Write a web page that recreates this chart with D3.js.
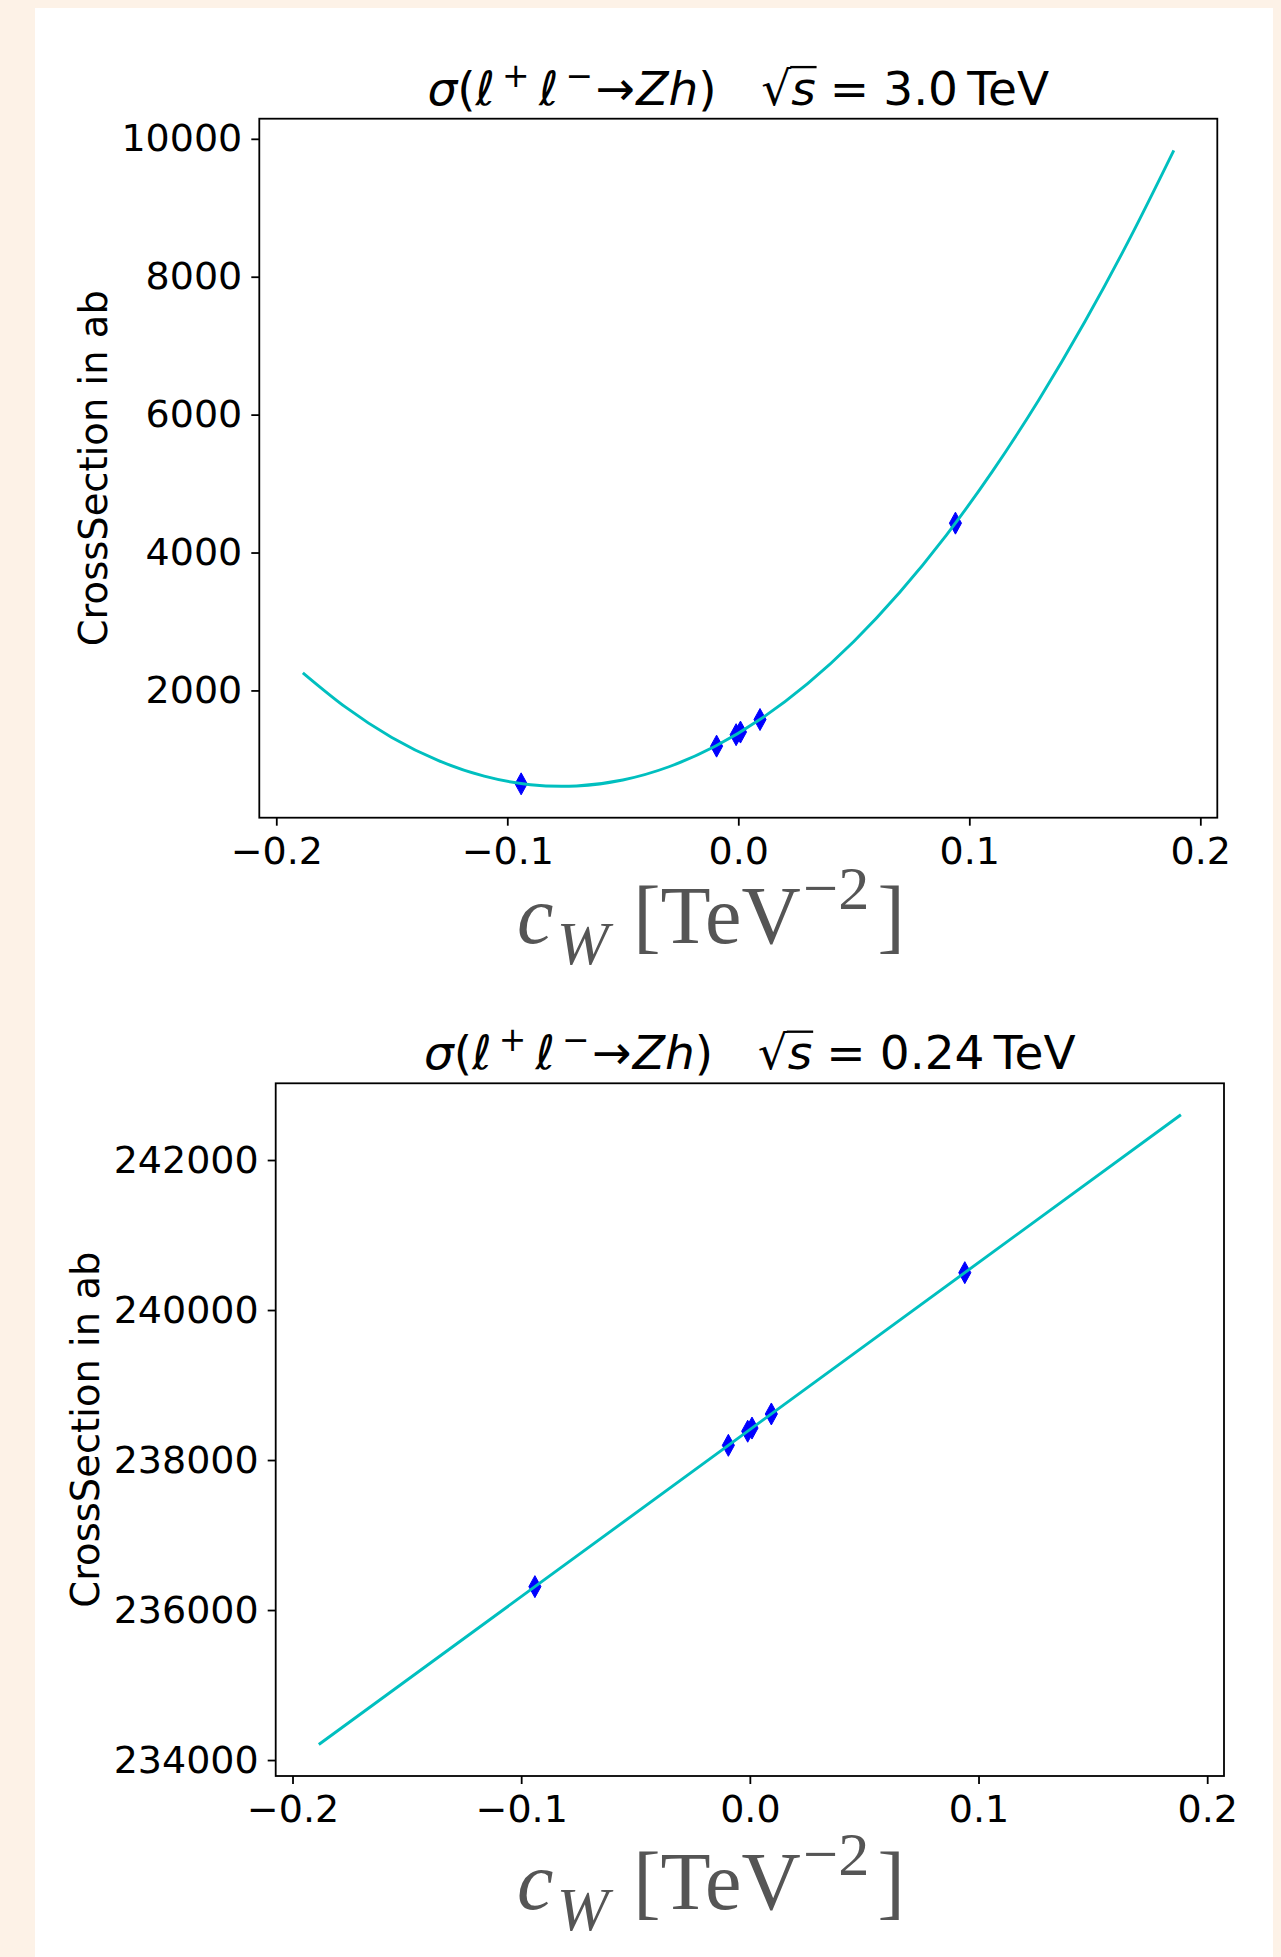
<!DOCTYPE html>
<html>
<head>
<meta charset="utf-8">
<script src="https://cdn.jsdelivr.net/npm/d3@7"></script>
<style>
  html, body { margin: 0; padding: 0; background: #fdf2e7; }
  svg { display: block; }
</style>
</head>
<body>
<svg id="chart" width="1281" height="1957"></svg>
<script>
// ---- data: Wilson coefficient c_W [TeV^-2] and cross sections in ab ----
const cwPoints = [-0.094, -0.0094, -0.00094, 0.00094, 0.0094, 0.094];
const sigma3TeVPoints = [645, 1192, 1358, 1396, 1578, 4426];
const sigma240GeVPoints = [236312, 238196, 238384, 238426, 238614, 240498];

// fitted curves
const cwCurve = [-0.1885, -0.17, -0.15, -0.13, -0.11, -0.09, -0.07, -0.05, -0.03, -0.01,
                 0.01, 0.03, 0.05, 0.07, 0.09, 0.11, 0.13, 0.15, 0.17, 0.1885];
const sigma3TeVCurve = [2256, 1757, 1318, 985, 756, 633, 615, 701, 893, 1190,
                        1592, 2099, 2711, 3428, 4250, 5177, 6209, 7346, 8589, 9831];
const cwLine = [-0.1885, 0, 0.1885];
const sigma240GeVLine = [234207, 238405, 242603];

// tick labels
const xTicks = [-0.2, -0.1, 0.0, 0.1, 0.2];
const yTicks3TeV = [2000, 4000, 6000, 8000, 10000];
const yTicks240GeV = [234000, 236000, 238000, 240000, 242000];

const energyLabels = ["3.0", "0.24"];

// ---- layout ----
const svg = d3.select("#chart");
const SANS = "DejaVu Sans";
const SERIF = "Liberation Serif";

svg.append("rect").attr("x", 35).attr("y", 8).attr("width", 1238).attr("height", 1957)
   .attr("fill", "#ffffff");

const panels = [
  { box: { left: 259.3, right: 1217.3, top: 118.7, bottom: 817.7 },
    cw: cwPoints, pts: sigma3TeVPoints, cx: cwCurve, cy: sigma3TeVCurve,
    yTicks: yTicks3TeV, energy: energyLabels[0], ylabX: 107, xlabBase: 943 },
  { box: { left: 275.7, right: 1224.0, top: 1083.3, bottom: 1776.0 },
    cw: cwPoints, pts: sigma240GeVPoints, cx: cwLine, cy: sigma240GeVLine,
    yTicks: yTicks240GeV, energy: energyLabels[1], ylabX: 99, xlabBase: 1909 }
];

// thin diamond marker
const thinDiamond = {
  draw(ctx, size) {
    const r = Math.sqrt(size);
    ctx.moveTo(0, -r);
    ctx.lineTo(r * 0.55, 0);
    ctx.lineTo(0, r);
    ctx.lineTo(-r * 0.55, 0);
    ctx.closePath();
  }
};

// lay out a run of math-style pieces (italic / super / subscript) as real text
function mathRun(parent, parts, opt) {
  const g = parent.append("g");
  let x = 0;
  const fs = opt.size;
  const overs = [];
  parts.forEach(p => {
    x += (p.gap || 0) * fs;
    const sz = (p.sup || p.sub) ? fs * (opt.scriptScale || 0.7) : fs;
    const dy = p.sup ? -fs * (opt.supShift || 0.38) : (p.sub ? fs * (opt.subShift || 0.22) : 0);
    const t = g.append("text")
      .attr("x", x).attr("y", dy)
      .attr("font-family", opt.family)
      .attr("font-size", sz)
      .attr("font-style", p.it ? "italic" : "normal")
      .attr("fill", opt.fill || "#000")
      .text(p.t);
    const w = t.node().getComputedTextLength();
    if (p.over) overs.push([x - 0.02 * fs, x + w + 0.02 * fs]);
    x += w + (p.after || 0) * fs;
  });
  overs.forEach(([a, b]) => {
    g.append("line").attr("x1", a).attr("x2", b)
      .attr("y1", -0.80 * fs).attr("y2", -0.80 * fs)
      .attr("stroke", opt.fill || "#000").attr("stroke-width", 0.05 * fs);
  });
  const width = x;
  const x0 = opt.anchor === "middle" ? opt.x - width / 2 : opt.x;
  g.attr("transform", `translate(${x0},${opt.y})`);
  return g;
}

panels.forEach(P => {
  const b = P.box;
  const xExt = d3.extent(P.cx), yExt = d3.extent(P.cy);
  const xPad = (xExt[1] - xExt[0]) * 0.05, yPad = (yExt[1] - yExt[0]) * 0.05;
  const x = d3.scaleLinear().domain([xExt[0] - xPad, xExt[1] + xPad]).range([b.left, b.right]);
  const y = d3.scaleLinear().domain([yExt[0] - yPad, yExt[1] + yPad]).range([b.bottom, b.top]);

  // data points
  svg.append("g").selectAll("path")
    .data(P.cw.map((c, i) => [c, P.pts[i]]))
    .join("path")
    .attr("transform", d => `translate(${x(d[0])},${y(d[1])})`)
    .attr("d", d3.symbol().type(thinDiamond).size(121))
    .attr("fill", "#0000ff")
    .attr("stroke", "#0000ff")
    .attr("stroke-width", 1);

  // fitted curve
  const line = d3.line().x(d => x(d[0])).y(d => y(d[1])).curve(d3.curveNatural);
  svg.append("path")
    .datum(P.cx.map((c, i) => [c, P.cy[i]]))
    .attr("d", line)
    .attr("fill", "none")
    .attr("stroke", "#00bfbf")
    .attr("stroke-width", 2.9);

  // axes
  const xAxis = svg.append("g").attr("transform", `translate(0,${b.bottom})`)
    .call(d3.axisBottom(x).tickValues(xTicks).tickFormat(d3.format(".1f")).tickSize(8).tickPadding(11));
  const yAxis = svg.append("g").attr("transform", `translate(${b.left},0)`)
    .call(d3.axisLeft(y).tickValues(P.yTicks).tickFormat(d3.format("d")).tickSize(8).tickPadding(9));
  [xAxis, yAxis].forEach(a => {
    a.select(".domain").remove();
    a.selectAll(".tick line").attr("stroke", "#000").attr("stroke-width", 1.8);
    a.selectAll(".tick text").attr("font-family", SANS).attr("font-size", 38).attr("fill", "#000");
  });

  // frame
  svg.append("rect").attr("x", b.left).attr("y", b.top)
    .attr("width", b.right - b.left).attr("height", b.bottom - b.top)
    .attr("fill", "none").attr("stroke", "#000").attr("stroke-width", 1.8);

  // y label
  svg.append("text")
    .attr("transform", `translate(${P.ylabX},${(b.top + b.bottom) / 2}) rotate(-90)`)
    .attr("text-anchor", "middle")
    .attr("font-family", SANS).attr("font-size", 38.5).attr("fill", "#000")
    .text("CrossSection in ab");

  // title
  mathRun(svg, [
    { t: "σ", it: true },
    { t: "(" },
    { t: "ℓ", it: true },
    { t: "+", sup: true, gap: 0.15 },
    { t: "ℓ", it: true, gap: 0.2 },
    { t: "−", sup: true, gap: 0.15 },
    { t: "→", gap: 0.05 },
    { t: "Z", it: true, gap: 0.03 },
    { t: "h", it: true },
    { t: ")" },
    { t: "√", gap: 0.95 },
    { t: "s", it: true, over: true },
    { t: "=", gap: 0.3 },
    { t: P.energy, gap: 0.3 },
    { t: "TeV", gap: 0.2 }
  ], { family: SANS, size: 47, x: (b.left + b.right) / 2, y: b.top - 14, anchor: "middle" });

  // x label
  mathRun(svg, [
    { t: "c", it: true },
    { t: "W", it: true, sub: true, gap: 0.04 },
    { t: "[", gap: 0.3 },
    { t: "TeV" },
    { t: "−2", sup: true, gap: 0.03 },
    { t: "]", gap: 0.1 }
  ], { family: SERIF, size: 82, x: 711, y: P.xlabBase, anchor: "middle", fill: "#555555",
       scriptScale: 0.76, supShift: 0.42, subShift: 0.26 });
});
</script>
</body>
</html>
